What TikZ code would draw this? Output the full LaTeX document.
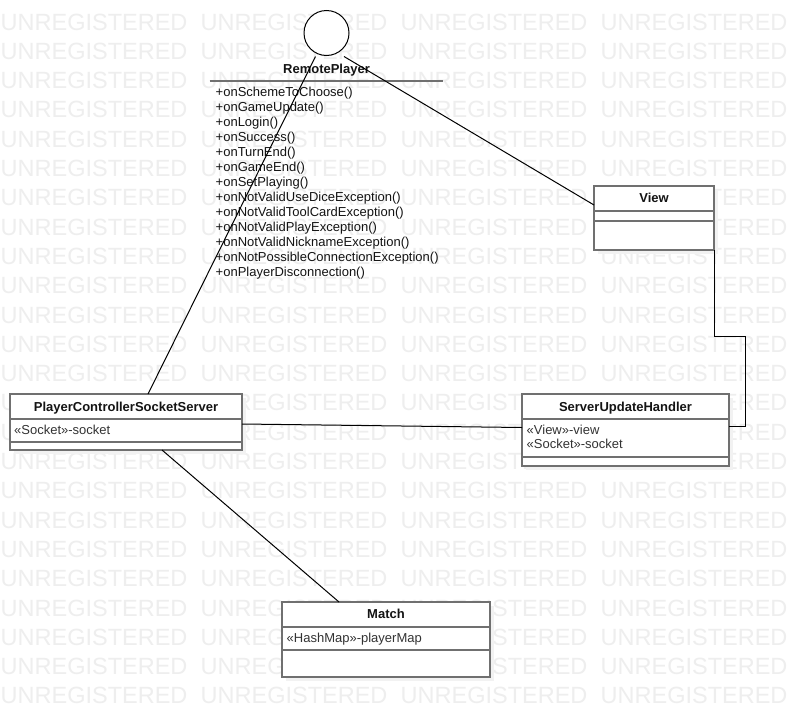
\documentclass[tikz,border=0pt]{standalone}
\usepackage{fontspec}
\setmainfont{Liberation Sans}
\usetikzlibrary{calc,shadows}
\definecolor{wmgray}{RGB}{238,238,238}
\definecolor{boxgray}{RGB}{112,112,112}
\definecolor{shgray}{RGB}{242,242,242}
\definecolor{attrc}{RGB}{51,51,51}
\definecolor{txtc}{RGB}{20,20,20}
\begin{document}
\begin{tikzpicture}[x=1pt,y=-1pt,
  wm/.style={font=\fontsize{23.5}{24}\selectfont, text=wmgray, inner sep=0pt, anchor=base west},
  cls/.style={draw=boxgray, line width=2pt, fill=white, anchor=north west, inner sep=0pt, outer sep=0pt,
    drop shadow={shadow xshift=4pt, shadow yshift=-4pt, fill=shgray, opacity=1}},
  sepline/.style={draw=boxgray, line width=2pt},
  ttl/.style={font=\fontsize{13}{15}\selectfont\bfseries, text=txtc, inner sep=0pt, anchor=base},
  attr/.style={font=\fontsize{13}{15}\selectfont, text=attrc, inner sep=0pt, anchor=base west},
  meth/.style={font=\fontsize{13}{15}\selectfont, text=txtc, inner sep=0pt, anchor=base west},
  conn/.style={draw=black, line width=1pt}]
\useasboundingbox[fill=white] (0,0) rectangle (787,718);

% watermark
\foreach \r in {0,...,23}{
  \foreach \c in {0,...,3}{
    \node[wm] (wm\r-\c) at ({0.5+200*\c},{30+29.3*\r}) {UNREGISTERED};
  }
}

% classes
\node[cls, minimum width=232pt, minimum height=56pt] (pcss) at (10,394) {};
\draw[sepline] ($(pcss.north west)+(0,25)$) -- ($(pcss.north east)+(0,25)$);
\draw[sepline] ($(pcss.north west)+(0,47.7)$) -- ($(pcss.north east)+(0,47.7)$);
\node[ttl] (pcssT) at ($(pcss.north)+(0,17)$) {PlayerControllerSocketServer};
\node[attr] (pcssA) at ($(pcss.north west)+(4,40.5)$) {«Socket»-socket};

\node[cls, minimum width=207pt, minimum height=72pt] (suh) at (522,394) {};
\draw[sepline] ($(suh.north west)+(0,24.7)$) -- ($(suh.north east)+(0,24.7)$);
\draw[sepline] ($(suh.north west)+(0,62.7)$) -- ($(suh.north east)+(0,62.7)$);
\node[ttl] (suhT) at ($(suh.north)+(0,17)$) {ServerUpdateHandler};
\node[attr] (suhA1) at ($(suh.north west)+(4.5,40.5)$) {«View»-view};
\node[attr] (suhA2) at ($(suh.north west)+(4.5,54.5)$) {«Socket»-socket};

\node[cls, minimum width=120pt, minimum height=64pt] (view) at (594,186) {};
\draw[sepline] ($(view.north west)+(0,24.7)$) -- ($(view.north east)+(0,24.7)$);
\draw[sepline] ($(view.north west)+(0,34.7)$) -- ($(view.north east)+(0,34.7)$);
\node[ttl] (viewT) at ($(view.north)+(0,16.5)$) {View};

\node[cls, minimum width=208pt, minimum height=75pt] (match) at (282,602) {};
\draw[sepline] ($(match.north west)+(0,24.7)$) -- ($(match.north east)+(0,24.7)$);
\draw[sepline] ($(match.north west)+(0,48)$) -- ($(match.north east)+(0,48)$);
\node[ttl] (matchT) at ($(match.north)+(0,16.5)$) {Match};
\node[attr] (matchA) at ($(match.north west)+(4.5,40.5)$) {«HashMap»-playerMap};

% interface RemotePlayer
\node[circle, draw=black, line width=1pt, fill=white, minimum size=45pt, inner sep=0pt] (rp) at (326.5,33) {};
\node[ttl] (rpT) at (326.5,73) {RemotePlayer};
\coordinate (rpL) at (209.5,81);
\coordinate (rpR) at (443,81);
\draw[sepline] (rpL) -- (rpR);
\foreach \m [count=\i from 0] in {+onSchemeToChoose(),+onGameUpdate(),+onLogin(),+onSuccess(),+onTurnEnd(),+onGameEnd(),+onSetPlaying(),+onNotValidUseDiceException(),+onNotValidToolCardException(),+onNotValidPlayException(),+onNotValidNicknameException(),+onNotPossibleConnectionException(),+onPlayerDisconnection()}{
  \node[meth] (m\i) at (215.5,{96.7+15*\i}) {\m};
}

% connectors
\draw[conn] ($(rp.south)+(-11,0.5)$) -- ($(pcss.north west)+(138,0)$);
\draw[conn] ($(rp.south)+(17.5,0.5)$) -- ($(view.north west)+(0,19)$);
\draw[conn] ($(pcss.north east)+(0,30)$) -- ($(suh.north west)+(0,33.5)$);
\draw[conn] ($(pcss.south west)+(152,0)$) -- ($(match.north west)+(57,0)$);
\draw[conn] (view.south east) -- ++(0,86.7) -- ++(31.5,0) |- ($(suh.north east)+(0,32)$);
\end{tikzpicture}
\end{document}
